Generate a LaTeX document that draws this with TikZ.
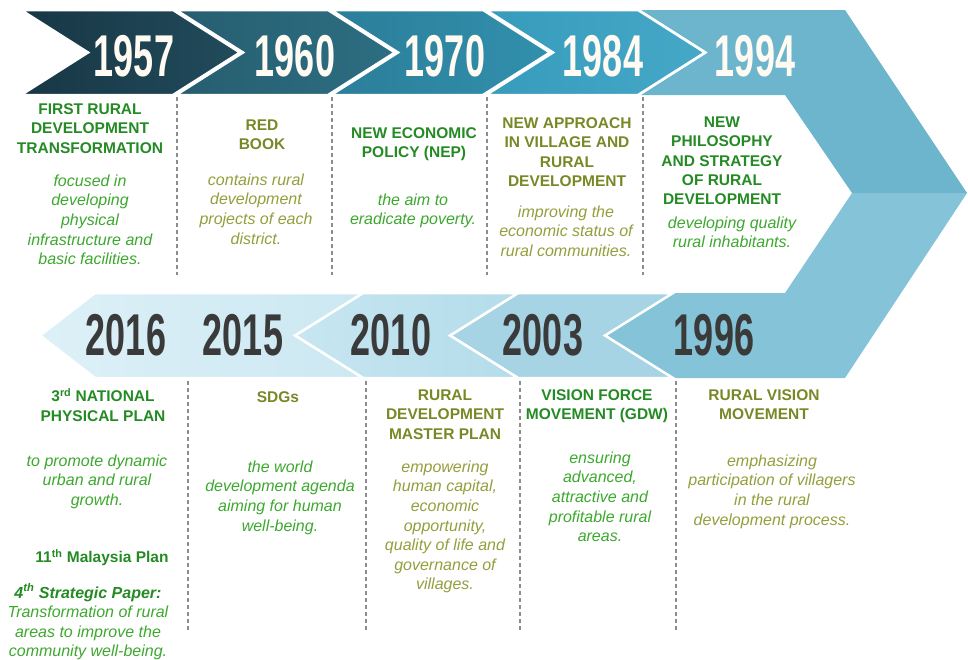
\documentclass[tikz,border=0pt]{standalone}
\usepackage{fontspec}
\setmainfont{Liberation Sans}
\usepackage{xcolor}
\usepackage{tikz}
\usetikzlibrary{positioning,calc}

\definecolor{c57a}{HTML}{183745}
\definecolor{c57b}{HTML}{214B5B}
\definecolor{c60a}{HTML}{265E70}
\definecolor{c60b}{HTML}{2D6E82}
\definecolor{c70a}{HTML}{2B7E99}
\definecolor{c70b}{HTML}{3190AD}
\definecolor{c84a}{HTML}{379BBC}
\definecolor{c84b}{HTML}{45A8C7}
\definecolor{c94}{HTML}{6DB5CD}
\definecolor{c96}{HTML}{84C3D8}
\definecolor{c03}{HTML}{A7D4E4}
\definecolor{c10a}{HTML}{C7E6F1}
\definecolor{c10b}{HTML}{B4DCEA}
\definecolor{c16a}{HTML}{DDF0F7}
\definecolor{c16b}{HTML}{CCE8F2}
\definecolor{gtitle}{RGB}{36,138,36}
\definecolor{gtext}{RGB}{60,168,46}
\definecolor{otitle}{RGB}{120,136,38}
\definecolor{otext}{RGB}{148,158,60}
\definecolor{yrdark}{HTML}{3A3A3A}
\definecolor{yrlight}{HTML}{FFFAF2}
\definecolor{guidegray}{HTML}{8C8C8C}

\newcommand{\yr}[1]{\scalebox{0.61}[1]{\fontsize{59}{59}\selectfont\bfseries #1}}

\tikzset{
  band/.style={draw=white, line width=2.5pt, line join=miter},
  guide/.style={draw=guidegray, dash pattern=on 4pt off 3pt, line width=1.2pt},
  yrtop/.style={inner sep=0pt, text=yrlight},
  yrbot/.style={inner sep=0pt, text=yrdark},
  headg/.style={anchor=north, align=center, inner sep=0pt, text=gtitle,
                font=\fontsize{15.5}{19.4}\selectfont\bfseries},
  heado/.style={headg, text=otitle},
  textg/.style={anchor=north, align=center, inner sep=0pt, text=gtext,
                font=\fontsize{16}{19.6}\selectfont\itshape},
  texto/.style={textg, text=otext}
}

\begin{document}
\begin{tikzpicture}[x=1pt, y=-1pt]
          \useasboundingbox (0,0) rectangle (968,659);

          % the ribbon, turning at the right
          \begin{scope}
              \fill[c94] (641,10) -- (845,10) -- (967,193) -- (852,193) -- (785,95) -- (641,95) -- (708,52.5) -- cycle;
              \fill[c96] (852,193) -- (967,193) -- (845,378) -- (673,378) -- (605,335.5) -- (673,293) -- (785,293) -- cycle;

              \path[band, left color=c57a, right color=c57b] (21,10) -- (173,10) -- (240,52.5) -- (173,95) -- (21,95) -- (88,52.5) -- cycle;
              \path[band, left color=c60a, right color=c60b] (176,10) -- (328,10) -- (395,52.5) -- (328,95) -- (176,95) -- (243,52.5) -- cycle;
              \path[band, left color=c70a, right color=c70b] (331,10) -- (483,10) -- (550,52.5) -- (483,95) -- (331,95) -- (398,52.5) -- cycle;
              \path[band, left color=c84a, right color=c84b] (486,10) -- (638,10) -- (705,52.5) -- (638,95) -- (486,95) -- (553,52.5) -- cycle;

              \path[band, fill=c03] (673,293) -- (518,293) -- (450,335.5) -- (518,378) -- (673,378) -- (605,335.5) -- cycle;
              \path[band, left color=c10a, right color=c10b] (518,293) -- (363,293) -- (295,335.5) -- (363,378) -- (518,378) -- (450,335.5) -- cycle;
              \path[band, left color=c16a, right color=c16b] (363,293) -- (95,293) -- (40,335.5) -- (95,378) -- (363,378) -- (295,335.5) -- cycle;
          \end{scope}

          % years
          \node[yrtop] (y1957) at (134,56) {\yr{1957}};
          \node[yrtop] (y1960) at (295,56) {\yr{1960}};
          \node[yrtop] (y1970) at (445,56) {\yr{1970}};
          \node[yrtop] (y1984) at (603,56) {\yr{1984}};
          \node[yrtop] (y1994) at (755,56) {\yr{1994}};

          \node[yrbot] (y2016) at (126,335) {\yr{2016}};
          \node[yrbot] (y2015) at (243,335) {\yr{2015}};
          \node[yrbot] (y2010) at (391,335) {\yr{2010}};
          \node[yrbot] (y2003) at (543,335) {\yr{2003}};
          \node[yrbot] (y1996) at (714,335) {\yr{1996}};

          % dashed guides
          \coordinate (g1a) at (177,97);  \coordinate (g1b) at (177,275);
          \coordinate (g2a) at (332,97);  \coordinate (g2b) at (332,275);
          \coordinate (g3a) at (487,97);  \coordinate (g3b) at (487,275);
          \coordinate (g4a) at (643,97);  \coordinate (g4b) at (643,275);
          \coordinate (g5a) at (188,381); \coordinate (g5b) at (188,630);
          \coordinate (g6a) at (366,381); \coordinate (g6b) at (366,630);
          \coordinate (g7a) at (520,381); \coordinate (g7b) at (520,630);
          \coordinate (g8a) at (676,381); \coordinate (g8b) at (676,630);
          \draw[guide] (g1a) -- (g1b);
          \draw[guide] (g2a) -- (g2b);
          \draw[guide] (g3a) -- (g3b);
          \draw[guide] (g4a) -- (g4b);
          \draw[guide] (g5a) -- (g5b);
          \draw[guide] (g6a) -- (g6b);
          \draw[guide] (g7a) -- (g7b);
          \draw[guide] (g8a) -- (g8b);

          % upper row
          \node[headg] (t1957) at (90,103.5) {FIRST RURAL\\DEVELOPMENT\\TRANSFORMATION};
          \node[textg] (d1957) at (90,174.5) {focused in\\developing\\physical\\infrastructure and\\basic facilities.};
          \node[heado] (t1960) at (262,119.5) {RED\\BOOK};
          \node[texto] (d1960) at (256,173.5) {contains rural\\development\\projects of each\\district.};
          \node[headg] (t1970) at (414,127.5) {NEW ECONOMIC\\POLICY (NEP)};
          \node[textg] (d1970) at (413,193.5) {the aim to\\eradicate poverty.};
          \node[heado] (t1984) at (567,117.5) {NEW APPROACH\\IN VILLAGE AND\\RURAL\\DEVELOPMENT};
          \node[texto] (d1984) at (566,205.5) {improving the\\economic status of\\rural communities.};
          \node[headg] (t1994) at (722,116.5) {NEW\\PHILOSOPHY\\AND STRATEGY\\OF RURAL\\DEVELOPMENT};
          \node[textg] (d1994) at (732,216.5) {developing quality\\rural inhabitants.};

          % lower row
          \node[headg] (t2016) at (103,388.5) {3\textsuperscript{rd} NATIONAL\\PHYSICAL PLAN};
          \node[textg] (d2016) at (97,454.5) {to promote dynamic\\urban and rural\\growth.};
          \node[headg] (m2016) at (102,549.5) {11\textsuperscript{th} Malaysia Plan};
          \node[textg] (s2016) at (88,583.5) {{\bfseries\color{gtitle}4\textsuperscript{th} Strategic Paper:}\\Transformation of rural\\areas to improve the\\community well-being.};
          \node[heado] (t2015) at (278,391.5) {SDGs};
          \node[textg] (d2015) at (280,460.5) {the world\\development agenda\\aiming for human\\well-being.};
          \node[heado] (t2010) at (445,389.5) {RURAL\\DEVELOPMENT\\MASTER PLAN};
          \node[texto] (d2010) at (445,460.5) {empowering\\human capital,\\economic\\opportunity,\\quality of life and\\governance of\\villages.};
          \node[headg] (t2003) at (597,389.5) {VISION FORCE\\MOVEMENT (GDW)};
          \node[textg] (d2003) at (600,451.5) {ensuring\\advanced,\\attractive and\\profitable rural\\areas.};
          \node[heado] (t1996) at (764,389.5) {RURAL VISION\\MOVEMENT};
          \node[texto] (d1996) at (772,454.5) {emphasizing\\participation of villagers\\in the rural\\development process.};
\end{tikzpicture}
\end{document}
